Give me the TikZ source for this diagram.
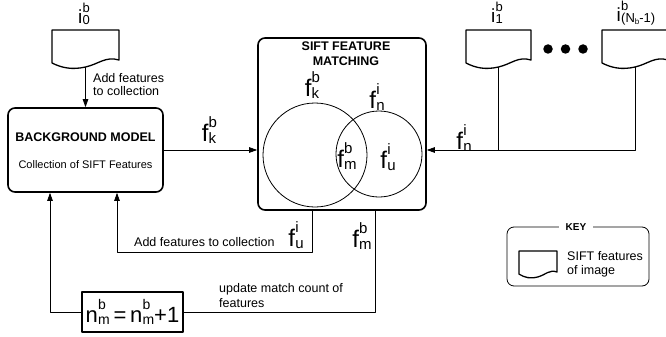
\documentclass[tikz,border=0pt]{standalone}
\usepackage{fontspec}
\setmainfont{Liberation Sans}
\usetikzlibrary{arrows.meta}

\newcommand\lbl[4]{#1\kern0.3pt\rlap{\raisebox{0.58em}{\fontsize{#4}{#4}\selectfont #2}}\raisebox{-0.08em}{\fontsize{#4}{#4}\selectfont #3}}

\newcommand\docshape[5]{%
  \draw[docline] (#2,#3) -- ({#2+#4},#3) -- ({#2+#4},{#3+30*#5})
    .. controls ({#2+0.8*#4},{#3+26*#5}) and ({#2+0.7*#4},{#3+34*#5}) .. ({#2+0.5*#4},{#3+37*#5})
    .. controls ({#2+0.3*#4},{#3+40*#5}) and ({#2+0.15*#4},{#3+38*#5}) .. (#2,{#3+33*#5}) -- cycle;
  \coordinate (#1) at ({#2+0.5*#4},{#3+37*#5});
}

\begin{document}
\begin{tikzpicture}[x=1pt,y=-1pt,line join=round,
  thin/.style={line width=0.8pt},
  arr/.style={line width=0.8pt,-{Triangle[length=8pt,width=5.5pt]}},
  box/.style={draw,line width=1.6pt,rounded corners=7pt,inner sep=0},
  docline/.style={line width=1.3pt},
  txt/.style={font=\fontsize{12.5}{13}\selectfont,inner sep=0,align=left},
  bold/.style={font=\fontsize{12.5}{15}\selectfont\bfseries,inner sep=0,align=center},
  flbl/.style={font=\fontsize{24}{24}\selectfont,inner sep=0},
  ilbl/.style={font=\fontsize{19}{19}\selectfont,inner sep=0},
  venn/.style={draw,circle,line width=0.8pt,inner sep=0},
  dot/.style={fill,circle,inner sep=0,minimum size=9.5pt}]
\useasboundingbox (0,0) rectangle (666,337);

% background model
\node[box,minimum width=155pt,minimum height=84pt] (bg) at (85.5,150) {};
\node[bold] (bgt) at (85.5,137) {BACKGROUND MODEL};
\node[font=\fontsize{11}{13}\selectfont,inner sep=0] (bgs) at (85.5,165) {Collection of SIFT Features};

% sift matching box
\node[box,minimum width=168pt,minimum height=172pt] (sift) at (342,124) {};
\node[bold] (st) at (346,53.5) {SIFT FEATURE\\MATCHING};
\node[venn,minimum size=104pt] (ck) at (315,155) {};
\node[venn,minimum size=86pt] (cn) at (379,154) {};
\node[flbl] (lk) at (312,85) {\lbl{f}{b}{k}{15}};
\node[flbl] (ln) at (377,97) {\lbl{f}{i}{n}{15}};
\node[flbl] (lm) at (347,156) {\lbl{f}{b}{m}{15}};
\node[flbl] (lu) at (388,157) {\lbl{f}{i}{u}{15}};

% image documents
\docshape{d0}{52}{30}{67}{1}
\docshape{d1}{466}{30}{65}{1}
\docshape{dN}{602}{30}{66}{1}
\node[ilbl] (l0) at (84,14) {\lbl{i}{b}{0}{13}};
\node[ilbl] (l1) at (497,13) {\lbl{i}{b}{1}{13}};
\node[ilbl] (lN) at (636,13) {\lbl{i}{b}{(N\raisebox{-.15em}{\fontsize{8}{8}\selectfont b}-1)}{13}};
\node[dot] (o1) at (548,49) {};
\node[dot] (o2) at (565.5,49) {};
\node[dot] (o3) at (583,49) {};

% top connectors
\draw[arr] (d0) -- (d0 |- bg.north);
\node[txt,anchor=west] (addt) at (93,84.5) {Add features\\to collection};
\draw[arr] (bg.east) -- (sift.west |- bg.east);
\node[flbl] (lkb) at (209,130) {\lbl{f}{b}{k}{15}};
\coordinate (j1) at (d1 |- bg.east);
\draw[thin] (d1) -- (j1);
\draw[arr] (dN) -- (dN |- bg.east) -- (sift.east |- bg.east);
\node[flbl] (lni) at (464,138) {\lbl{f}{i}{n}{15}};

% bottom connectors
\coordinate (u0) at (312,210);
\coordinate (u1) at (312,252);
\coordinate (u2) at (117,252);
\draw[arr] (u0) -- (u1) -- (u2) -- (u2 |- bg.south);
\node[txt,anchor=west] (addb) at (134,242) {Add features to collection};
\node[flbl] (lub) at (296,235) {\lbl{f}{i}{u}{15}};

\node[draw,line width=1.8pt,minimum width=101pt,minimum height=40pt,inner sep=0,font=\fontsize{22}{22}\selectfont] (eq) at (132.5,312) {\lbl{n}{b}{m}{14}\,=\,\lbl{n}{b}{m}{14}+1};
\coordinate (m0) at (375,210);
\coordinate (m1) at (375,312);
\draw[thin] (m0) -- (m1) -- (eq.east);
\coordinate (m2) at (50,312);
\draw[arr] (eq.west) -- (m2) -- (m2 |- bg.south);
\node[flbl] (lmb) at (362,236) {\lbl{f}{b}{m}{15}};
\node[txt,anchor=west,font=\fontsize{12.5}{15}\selectfont] (upd) at (219,295.5) {update match count of\\features};

% key
\node[draw,line width=0.8pt,rounded corners=7pt,minimum width=142pt,minimum height=59pt] (key) at (578,256.5) {};
\node[fill=white,font=\fontsize{10}{10}\selectfont\bfseries,inner xsep=7pt,inner ysep=1pt] (keyt) at (576,227) {KEY};
\docshape{kd}{519}{251}{38}{0.7}
\node[txt,anchor=west,font=\fontsize{12.5}{14}\selectfont] (keyx) at (567,264) {SIFT features\\of image};
\end{tikzpicture}
\end{document}
